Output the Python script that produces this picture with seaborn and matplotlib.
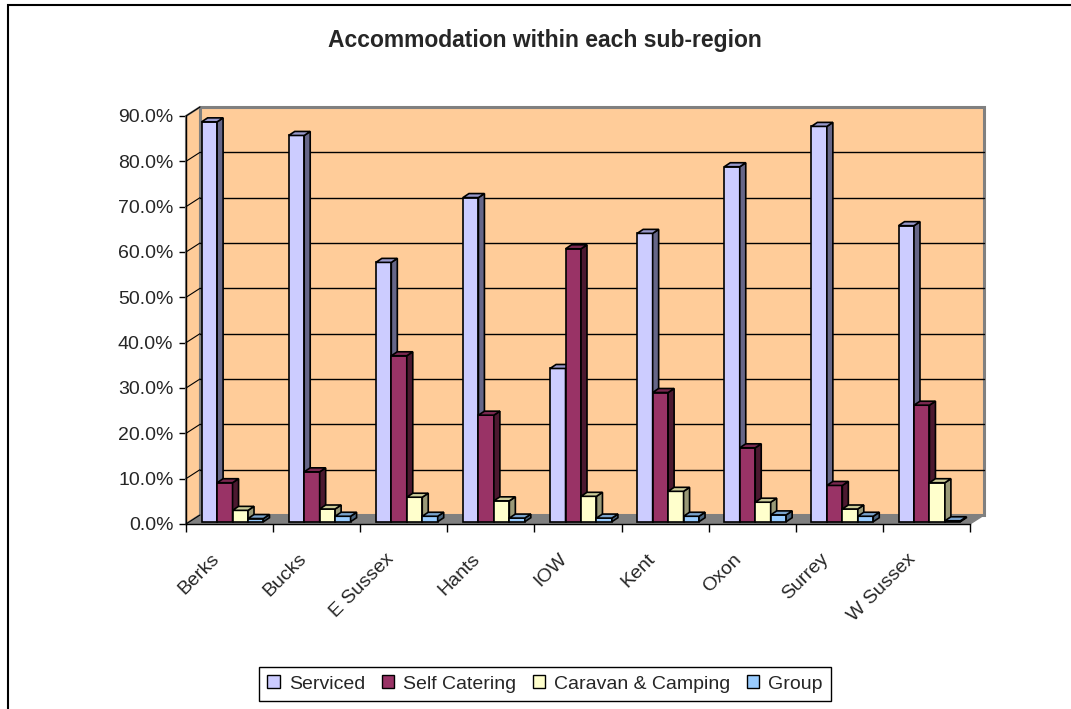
import matplotlib
matplotlib.use("Agg")
import matplotlib.pyplot as plt
import seaborn as sns
import pandas as pd
import numpy as np
from matplotlib.patches import Polygon, Rectangle
from matplotlib.lines import Line2D
from matplotlib.transforms import ScaledTranslation

# ---- data (share of accommodation, %) ----
regions = ["Berks", "Bucks", "E Sussex", "Hants", "IOW", "Kent", "Oxon", "Surrey", "W Sussex"]
serviced = [88.2, 85.2, 57.2, 71.5, 33.8, 63.6, 78.3, 87.2, 65.3]
self_catering = [8.6, 11.0, 36.6, 23.5, 60.2, 28.5, 16.3, 8.0, 25.7]
caravan_camping = [2.5, 2.8, 5.4, 4.6, 5.6, 6.7, 4.3, 2.8, 8.6]
group = [0.7, 1.2, 1.2, 0.8, 0.8, 1.2, 1.5, 1.2, 0.2]
series_names = ["Serviced", "Self Catering", "Caravan & Camping", "Group"]
y_ticks = [0, 10, 20, 30, 40, 50, 60, 70, 80, 90]
title = "Accommodation within each sub-region"

front_cols = ["#CCCCFF", "#993366", "#FFFFCC", "#99CCFF"]
side_cols = ["#666688", "#4C1930", "#999977", "#4C6680"]
top_cols = ["#9999CC", "#7A2850", "#CCCC99", "#7AA3CC"]

df = pd.DataFrame({
    "Region": regions,
    series_names[0]: serviced,
    series_names[1]: self_catering,
    series_names[2]: caravan_camping,
    series_names[3]: group,
}).melt(id_vars="Region", var_name="Type", value_name="Share")

sns.set_style("white")
plt.rcParams["font.family"] = ["Liberation Sans", "DejaVu Sans"]

W, H = 1071, 709
fig = plt.figure(figsize=(W / 100, H / 100), dpi=100)
fig.patch.set_facecolor("white")

# front plane of the 3-D box
x0, x1, y0, y1 = 186, 970, 524, 116
ax = fig.add_axes([x0 / W, (H - y0) / H, (x1 - x0) / W, (y0 - y1) / H])
ax.set_facecolor("none")

sns.barplot(data=df, x="Region", y="Share", hue="Type", order=regions,
            hue_order=series_names, palette=front_cols, saturation=1,
            width=0.71, edgecolor="black", linewidth=1.2, ax=ax, legend=False)

ax.set_xlim(-0.5, len(regions) - 0.5)
ax.set_ylim(y_ticks[0], y_ticks[-1])

# pixel -> data conversions
px_x = ax.transData.transform((1, 0))[0] - ax.transData.transform((0, 0))[0]
px_y = ax.transData.transform((0, 1))[1] - ax.transData.transform((0, 0))[1]
DX, DY = 14 / px_x, 9 / px_y          # depth of the walls
BX, BY = 6 / px_x, 4 / px_y           # depth of each bar
OX, OY = 3 / px_x, 2.3 / px_y         # bars sit slightly behind the front plane

xl, xr = ax.get_xlim()
ytop = y_ticks[-1]
wall_edge = "#808080"

# back wall
ax.add_patch(Polygon([(xl + DX, DY), (xr + DX, DY), (xr + DX, ytop + DY), (xl + DX, ytop + DY)],
                     closed=True, facecolor="#FFCC99", edgecolor=wall_edge, lw=2.2,
                     zorder=0.5, clip_on=False))
# left side wall
ax.add_patch(Polygon([(xl, 0), (xl + DX, DY), (xl + DX, ytop + DY), (xl, ytop)],
                     closed=True, facecolor="#FFCC99", edgecolor=wall_edge, lw=1.5,
                     zorder=0.55, clip_on=False))
# floor
ax.add_patch(Polygon([(xl, 0), (xr, 0), (xr + DX, DY), (xl + DX, DY)],
                     closed=True, facecolor="#808080", edgecolor=wall_edge, lw=1,
                     zorder=0.6, clip_on=False))
# gridlines on the back wall and diagonals on the side wall
for v in y_ticks[1:-1]:
    ax.add_line(Line2D([xl + DX, xr + DX], [v + DY, v + DY], color="black", lw=1,
                       zorder=0.7, clip_on=False))
for v in y_ticks:
    ax.add_line(Line2D([xl, xl + DX], [v, v + DY], color="black", lw=0.8,
                       zorder=0.7, clip_on=False))

# give the bars depth: front face, side face and top face
bars = []
for si, cont in enumerate(ax.containers):
    for p in cont.patches:
        bars.append((p.get_x(), si, p))
bars.sort(key=lambda t: t[0])
for k, (_, si, p) in enumerate(bars):
    bx, bw, bh = p.get_x() + OX, p.get_width(), p.get_height()
    p.set_x(bx)
    p.set_y(OY)
    z = 2 + k * 0.01
    p.set_zorder(z)
    p.set_clip_on(False)
    top = OY + bh
    side = Polygon([(bx + bw, OY), (bx + bw + BX, OY + BY), (bx + bw + BX, top + BY), (bx + bw, top)],
                   closed=True, facecolor=side_cols[si], edgecolor="black", lw=1.2,
                   zorder=z + 0.001, clip_on=False)
    cap = Polygon([(bx, top), (bx + BX, top + BY), (bx + bw + BX, top + BY), (bx + bw, top)],
                  closed=True, facecolor=top_cols[si], edgecolor="black", lw=1.2,
                  zorder=z + 0.002, clip_on=False)
    ax.add_patch(side)
    ax.add_patch(cap)

# axes styling
for s in ["top", "right"]:
    ax.spines[s].set_visible(False)
for s in ["left", "bottom"]:
    ax.spines[s].set_color("black")
    ax.spines[s].set_linewidth(1)
    ax.spines[s].set_zorder(5)
ax.set_yticks(y_ticks)
ax.set_yticklabels([f"{v:.1f}%" for v in y_ticks], fontsize=14)
ax.tick_params(axis="y", length=5, width=1, color="black", pad=4, left=True)
ax.set_xticks(range(len(regions)))
ax.set_xticklabels(regions, fontsize=14, rotation=45, ha="right", va="top")
ax.tick_params(axis="x", which="major", length=0, pad=19)
shift = ScaledTranslation(-7 / 100, 0, fig.dpi_scale_trans)
for lab in ax.get_xticklabels():
    lab.set_transform(lab.get_transform() + shift)
ax.set_xticks(np.arange(-0.5, len(regions), 1), minor=True)
ax.tick_params(axis="x", which="minor", length=6, width=1, color="black", bottom=True)
ax.set_xlabel("")
ax.set_ylabel("")
ax.grid(False)

# title
fig.text(545 / W, (H - 40) / H, title, ha="center", va="center",
         fontsize=16.5, fontweight="bold")

# legend
handles = [Rectangle((0, 0), 1, 1, facecolor=c, edgecolor="black", lw=1) for c in front_cols]
leg = fig.legend(handles, series_names, loc="center", ncol=4,
                 bbox_to_anchor=(545 / W, (H - 684) / H), fontsize=14,
                 frameon=True, fancybox=False, edgecolor="black", framealpha=1,
                 handlelength=0.65, handleheight=0.65, handletextpad=0.45,
                 columnspacing=0.85, borderpad=0.42, borderaxespad=0)
leg.get_frame().set_linewidth(1)

# outer chart border
fig.patches.append(Rectangle((8 / W, -0.1), 1.2, (H - 4.5) / H + 0.1,
                             transform=fig.transFigure, fill=False,
                             edgecolor="black", lw=1.5))

fig.savefig("out.png", dpi=100, facecolor="white")
